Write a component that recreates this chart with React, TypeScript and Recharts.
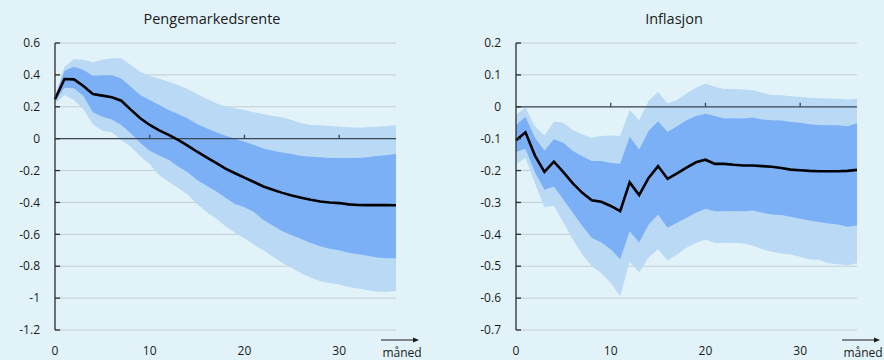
import React from "react";
import {
  ComposedChart,
  Area,
  Line,
  XAxis,
  YAxis,
  CartesianGrid,
  ReferenceLine,
} from "recharts";

// ---------- data ----------
const MONTHS = [
  0, 1, 2, 3, 4, 5, 6, 7, 8, 9, 10, 11, 12, 13, 14, 15, 16, 17, 18, 19, 20,
  21, 22, 23, 24, 25, 26, 27, 28, 29, 30, 31, 32, 33, 34, 35, 36,
];
const X_TICKS = [0, 10, 20, 30];

// Pengemarkedsrente
const RATE_MEDIAN = [
  0.247, 0.374, 0.372, 0.33, 0.28, 0.27, 0.26, 0.238, 0.182, 0.128, 0.086,
  0.052, 0.024, -0.008, -0.044, -0.082, -0.117, -0.152, -0.188, -0.217, -0.244,
  -0.272, -0.3, -0.32, -0.34, -0.357, -0.37, -0.383, -0.394, -0.4, -0.404,
  -0.412, -0.416, -0.417, -0.417, -0.417, -0.418,
];
const RATE_HI90 = [
  0.27, 0.45, 0.5, 0.495, 0.48, 0.495, 0.505, 0.505, 0.462, 0.42, 0.393, 0.376,
  0.357, 0.336, 0.311, 0.28, 0.25, 0.222, 0.201, 0.19, 0.18, 0.165, 0.155,
  0.142, 0.134, 0.117, 0.096, 0.086, 0.084, 0.079, 0.075, 0.071, 0.069, 0.071,
  0.075, 0.079, 0.084,
];
const RATE_HI68 = [
  0.26, 0.426, 0.451, 0.43, 0.395, 0.397, 0.397, 0.378, 0.326, 0.274, 0.242,
  0.211, 0.18, 0.155, 0.127, 0.092, 0.065, 0.04, 0.019, 0.0, -0.019, -0.04,
  -0.061, -0.075, -0.086, -0.096, -0.109, -0.113, -0.117, -0.121, -0.121,
  -0.121, -0.121, -0.117, -0.109, -0.104, -0.096,
];
const RATE_LO68 = [
  0.235, 0.32, 0.316, 0.267, 0.165, 0.138, 0.12, 0.086, 0.034, -0.025, -0.075,
  -0.105, -0.133, -0.175, -0.21, -0.26, -0.295, -0.33, -0.37, -0.41, -0.43,
  -0.46, -0.51, -0.545, -0.58, -0.605, -0.63, -0.655, -0.675, -0.69, -0.7,
  -0.715, -0.725, -0.735, -0.745, -0.75, -0.75,
];
const RATE_LO90 = [
  0.22, 0.274, 0.242, 0.184, 0.09, 0.05, 0.04, -0.008, -0.05, -0.11, -0.16,
  -0.23, -0.27, -0.31, -0.35, -0.41, -0.46, -0.5, -0.55, -0.59, -0.625, -0.665,
  -0.7, -0.74, -0.78, -0.81, -0.845, -0.87, -0.895, -0.905, -0.915, -0.93,
  -0.94, -0.95, -0.96, -0.96, -0.955,
];
const RATE_TICKS = [0.6, 0.4, 0.2, 0, -0.2, -0.4, -0.6, -0.8, -1, -1.2];

// Inflasjon
const INFL_MEDIAN = [
  -0.105, -0.08, -0.153, -0.204, -0.172, -0.205, -0.24, -0.27, -0.293, -0.298,
  -0.311, -0.327, -0.237, -0.277, -0.223, -0.186, -0.226, -0.209, -0.191,
  -0.174, -0.166, -0.179, -0.179, -0.182, -0.184, -0.184, -0.186, -0.188,
  -0.192, -0.197, -0.199, -0.201, -0.202, -0.202, -0.202, -0.201, -0.198,
];
const INFL_HI90 = [
  -0.024, -0.003, -0.061, -0.09, -0.046, -0.05, -0.073, -0.087, -0.097, -0.092,
  -0.09, -0.092, -0.01, -0.042, 0.018, 0.046, 0.01, 0.021, 0.042, 0.06, 0.073,
  0.063, 0.056, 0.056, 0.054, 0.052, 0.044, 0.037, 0.036, 0.033, 0.031, 0.028,
  0.027, 0.026, 0.025, 0.023, 0.025,
];
const INFL_HI68 = [
  -0.058, -0.031, -0.097, -0.137, -0.102, -0.113, -0.139, -0.155, -0.17, -0.17,
  -0.176, -0.179, -0.094, -0.134, -0.076, -0.045, -0.079, -0.061, -0.042,
  -0.029, -0.022, -0.029, -0.037, -0.036, -0.037, -0.034, -0.04, -0.042,
  -0.043, -0.048, -0.05, -0.055, -0.057, -0.058, -0.058, -0.061, -0.052,
];
const INFL_LO68 = [
  -0.142, -0.132, -0.205, -0.26, -0.25, -0.291, -0.332, -0.374, -0.411, -0.426,
  -0.447, -0.478, -0.39, -0.426, -0.369, -0.338, -0.379, -0.364, -0.348,
  -0.332, -0.32, -0.328, -0.328, -0.327, -0.328, -0.325, -0.332, -0.338,
  -0.339, -0.345, -0.351, -0.357, -0.361, -0.366, -0.369, -0.376, -0.372,
];
const INFL_LO90 = [
  -0.181, -0.16, -0.24, -0.315, -0.31, -0.363, -0.416, -0.463, -0.5, -0.521,
  -0.552, -0.594, -0.486, -0.52, -0.473, -0.447, -0.482, -0.463, -0.442,
  -0.427, -0.416, -0.427, -0.427, -0.427, -0.429, -0.435, -0.447, -0.455,
  -0.46, -0.463, -0.47, -0.479, -0.48, -0.491, -0.494, -0.497, -0.491,
];
const INFL_TICKS = [0.2, 0.1, 0, -0.1, -0.2, -0.3, -0.4, -0.5, -0.6, -0.7];

const TITLES = ["Pengemarkedsrente", "Inflasjon"];
const X_LABEL = "måned";

// ---------- styles ----------
const BG = "#e1f3f8";
const LIGHT = "#b9d9f5";
const DARK = "#7bb0f6";
const GRID = "#c3cdd1";
const ZERO = "#3b4754";
const AXIS = "#2b2b2b";
const TEXT = "#1a1a1a";
const FONT = "'Open Sans', sans-serif";

function build(median: number[], lo90: number[], lo68: number[], hi68: number[], hi90: number[]) {
  return MONTHS.map((m, i) => ({
    m,
    median: median[i],
    outer: [lo90[i], hi90[i]],
    inner: [lo68[i], hi68[i]],
  }));
}

const fmt = (v: number) => String(Number(v.toFixed(1)));

type PanelProps = {
  data: any[];
  domain: [number, number];
  ticks: number[];
  margin: { top: number; right: number; bottom: number; left: number };
  tickUp: number;
};

function Panel({ data, domain, ticks, margin, tickUp }: PanelProps) {
  return (
    <ComposedChart width={442} height={360} data={data} margin={margin}>
      <CartesianGrid horizontal vertical={false} stroke={GRID} strokeWidth={1} />
      <XAxis
        dataKey="m"
        type="number"
        domain={[0, 36]}
        ticks={X_TICKS}
        axisLine={false}
        tickLine={false}
        tickSize={0}
        tickMargin={16}
        interval={0}
        tick={{ fill: TEXT, fontSize: 12, fontFamily: FONT }}
        height={1}
      />
      <YAxis
        type="number"
        domain={domain}
        ticks={ticks}
        interval={0}
        width={40}
        tickFormatter={fmt}
        axisLine={{ stroke: AXIS, strokeWidth: 1.3 }}
        tickLine={{ stroke: AXIS, strokeWidth: 1.3 }}
        tickSize={-5}
        tickMargin={20}
        tick={{ fill: TEXT, fontSize: 12, fontFamily: FONT }}
        allowDataOverflow
      />
      <Area
        type="linear"
        dataKey="outer"
        stroke="none"
        fill={LIGHT}
        fillOpacity={1}
        isAnimationActive={false}
        activeDot={false}
      />
      <Area
        type="linear"
        dataKey="inner"
        stroke="none"
        fill={DARK}
        fillOpacity={1}
        isAnimationActive={false}
        activeDot={false}
      />
      <ReferenceLine y={0} stroke={ZERO} strokeWidth={1.3} />
      {X_TICKS.filter((t) => t > 0).map((t) => (
        <ReferenceLine
          key={t}
          segment={[
            { x: t, y: 0 },
            { x: t, y: tickUp },
          ]}
          stroke={ZERO}
          strokeWidth={1.3}
        />
      ))}
      <Line
        type="linear"
        dataKey="median"
        stroke="#000"
        strokeWidth={2.6}
        dot={false}
        activeDot={false}
        isAnimationActive={false}
      />
    </ComposedChart>
  );
}

export default function App() {
  const rateData = build(RATE_MEDIAN, RATE_LO90, RATE_LO68, RATE_HI68, RATE_HI90);
  const inflData = build(INFL_MEDIAN, INFL_LO90, INFL_LO68, INFL_HI68, INFL_HI90);
  return (
    <div
      style={{
        position: "absolute",
        left: 0,
        top: 0,
        width: 884,
        height: 360,
        background: BG,
        overflow: "hidden",
        fontFamily: FONT,
      }}
    >
      <div style={{ position: "absolute", left: 0, top: 0 }}>
        <Panel
          data={rateData}
          domain={[-1.2, 0.6]}
          ticks={RATE_TICKS}
          margin={{ top: 43, right: 46, bottom: 29, left: 15 }}
          tickUp={0.025}
        />
      </div>
      <div style={{ position: "absolute", left: 442, top: 0 }}>
        <Panel
          data={inflData}
          domain={[-0.7, 0.2]}
          ticks={INFL_TICKS}
          margin={{ top: 43, right: 27, bottom: 29, left: 34 }}
          tickUp={0.0125}
        />
      </div>
      <svg
        width={884}
        height={360}
        style={{ position: "absolute", left: 0, top: 0, pointerEvents: "none" }}
      >
        <text x={212} y={24} textAnchor="middle" fontSize={14.5} fill={TEXT} fontFamily={FONT}>
          {TITLES[0]}
        </text>
        <text x={674} y={24} textAnchor="middle" fontSize={14.5} fill={TEXT} fontFamily={FONT}>
          {TITLES[1]}
        </text>
        {[381, 842].map((x0) => (
          <g key={x0}>
            <line x1={x0} y1={340} x2={x0 + 33} y2={340} stroke={TEXT} strokeWidth={1} />
            <polygon
              points={`${x0 + 38},340 ${x0 + 32},337.6 ${x0 + 32},342.4`}
              fill={TEXT}
            />
            <text
              x={x0 + 21}
              y={357}
              textAnchor="middle"
              fontSize={12}
              fill={TEXT}
              fontFamily={FONT}
            >
              {X_LABEL}
            </text>
          </g>
        ))}
      </svg>
    </div>
  );
}
